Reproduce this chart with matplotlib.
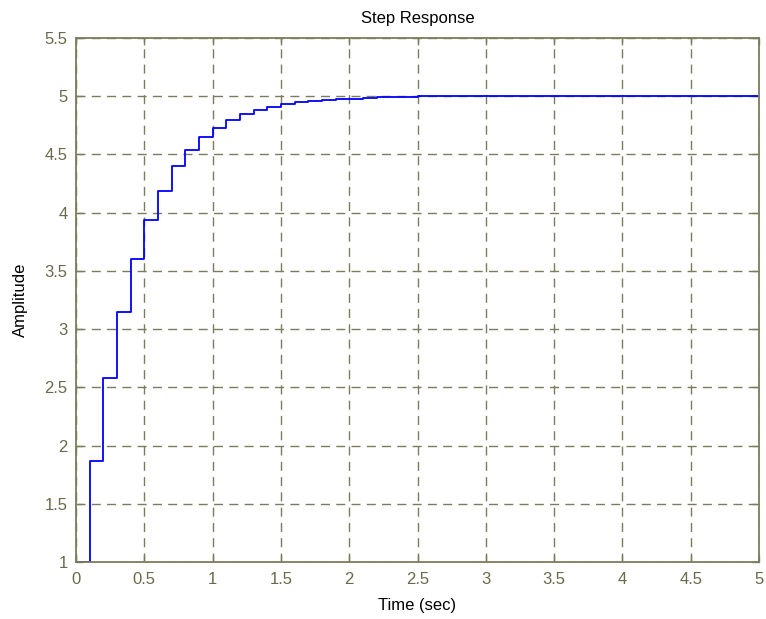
import matplotlib
matplotlib.use("Agg")
import matplotlib.pyplot as plt

# discrete step response samples (T = 0.1 s), held between samples
t = [0.0, 0.1, 0.2, 0.3, 0.4, 0.5, 0.6, 0.7, 0.8, 0.9, 1.0, 1.1, 1.2,
     1.3, 1.4, 1.5, 1.6, 1.7, 1.8, 1.9, 2.0, 2.1, 2.2, 2.3, 2.4, 2.5, 5.0]
y = [1.0, 1.87, 2.58, 3.15, 3.60, 3.94, 4.19, 4.40, 4.54, 4.65, 4.73, 4.80, 4.85,
     4.88, 4.91, 4.93, 4.95, 4.96, 4.97, 4.975, 4.98, 4.985, 4.99, 4.99, 4.995, 5.0, 5.0]

xticks = [0, 0.5, 1, 1.5, 2, 2.5, 3, 3.5, 4, 4.5, 5]
yticks = [1, 1.5, 2, 2.5, 3, 3.5, 4, 4.5, 5, 5.5]
xtick_labels = ['0', '0.5', '1', '1.5', '2', '2.5', '3', '3.5', '4', '4.5', '5']
ytick_labels = ['1', '1.5', '2', '2.5', '3', '3.5', '4', '4.5', '5', '5.5']

frame_col = "#7c7c5c"

plt.rcParams['font.family'] = ['Liberation Sans', 'DejaVu Sans']

fig = plt.figure(figsize=(7.66, 6.19), dpi=100)
ax = fig.add_axes([0.0992, 0.0921, 0.8918, 0.8465])

ax.plot(t, y, drawstyle='steps-post', color='#0000ff', linewidth=1.3)

ax.set_xlim(0, 5)
ax.set_ylim(1, 5.5)
ax.set_xticks(xticks)
ax.set_yticks(yticks)
ax.set_xticklabels(xtick_labels)
ax.set_yticklabels(ytick_labels)

ax.grid(True, color=frame_col, linestyle=(0, (6.5, 4.5)), linewidth=1.0)
ax.tick_params(direction='in', length=5, width=1, color=frame_col,
               labelcolor='#6a6a4a', labelsize=12, top=True, right=True)
ax.tick_params(axis='x', pad=7)
ax.tick_params(axis='y', pad=6)
for s in ax.spines.values():
    s.set_color(frame_col)
    s.set_linewidth(1.3)

ax.set_title('Step Response', fontsize=12, pad=11)
ax.set_xlabel('Time (sec)', fontsize=12, labelpad=8)
ax.set_ylabel('Amplitude', fontsize=12, labelpad=12)

fig.savefig('out.png', dpi=100, facecolor='white')
